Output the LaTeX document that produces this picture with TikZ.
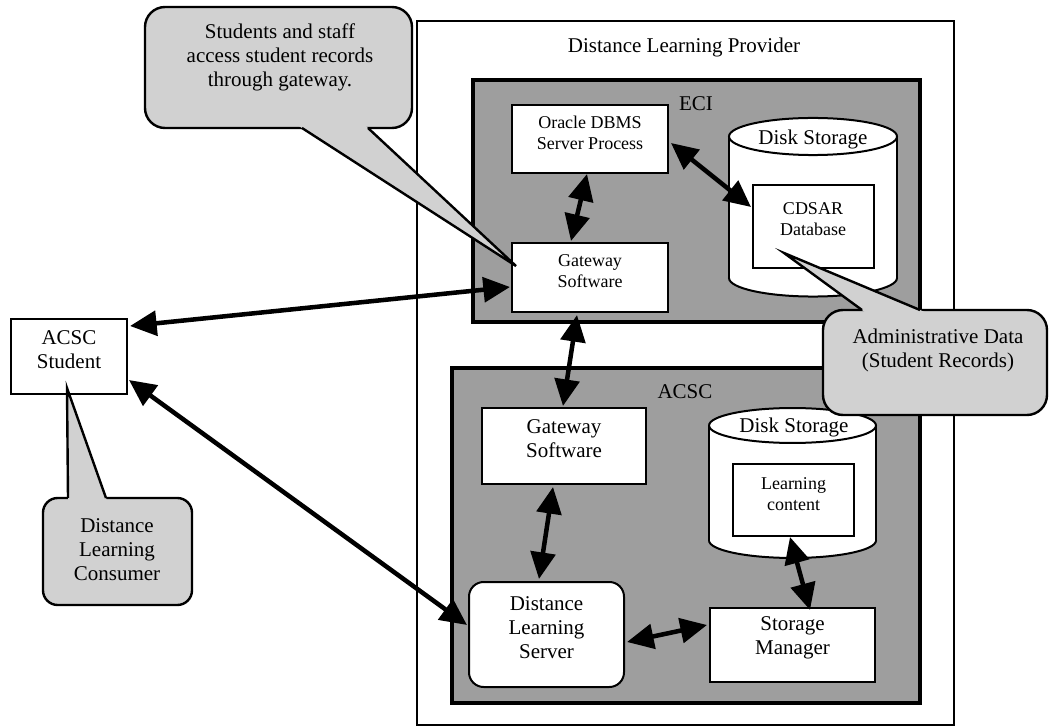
\documentclass[tikz,border=0pt]{standalone}
\usepackage{fontspec}
\setmainfont{Liberation Serif}
\usetikzlibrary{arrows.meta,calc,fit}
\definecolor{zonegray}{gray}{0.62}
\definecolor{notegray}{gray}{0.82}
\newcommand{\txtmain}{\fontsize{15.75pt}{18pt}\selectfont}
\newcommand{\txtsmall}{\fontsize{13.5pt}{15.75pt}\selectfont}

\begin{document}
\begin{tikzpicture}[x=0.75pt,y=-0.75pt,
  zone/.style={draw, line width=2.5pt, fill=zonegray, inner sep=0pt},
  box/.style={draw, line width=1.5pt, fill=white, inner sep=0pt, align=center, font=\txtmain},
  smallbox/.style={box, font=\txtsmall},
  roundbox/.style={box, rounded corners=11pt},
  note/.style={draw, line width=1.8pt, fill=notegray, inner sep=0pt},
  tailfill/.style={fill=notegray},
  tailline/.style={line width=1.8pt, line join=miter},
  link/.style={line width=3.4pt, {Triangle[length=20pt,width=18.5pt]}-{Triangle[length=20pt,width=18.5pt]}},
  lbl/.style={font=\txtmain, inner sep=0pt, align=center},
  disk/.style={draw, line width=1.5pt, fill=white}
]
\useasboundingbox (0,0) rectangle (1050,727);
\fill[white] (0,0) rectangle (1050,727);

% provider frame
\node[draw, line width=1.5pt, inner sep=0pt, fit={(417,21)(954,725)}] (provider) {};
\node[lbl] (providerT) at (684,47) {Distance Learning Provider};

% ECI and ACSC zones
\node[zone, fit={(473,80)(920,322)}] (eci) {};
\node[lbl] (eciT) at (696,104) {ECI};
\node[zone, fit={(452,368)(920,703)}] (acsc) {};
\node[lbl] (acscT) at (685,392) {ACSC};

% ECI disk storage cylinder
\path[disk] (813,278) ellipse [x radius=63pt, y radius=13.9pt];
\fill[white] (729,136.5) rectangle (897,278);
\draw[line width=1.5pt] (729,136.5) -- (729,278) (897,136.5) -- (897,278);
\path[disk] (813,136.5) ellipse [x radius=63pt, y radius=13.9pt];
\node[lbl] (diskE) at (813,139) {Disk Storage};

% ACSC disk storage cylinder
\path[disk] (792.5,540.5) ellipse [x radius=62.6pt, y radius=13.1pt];
\fill[white] (709,425.5) rectangle (876,540.5);
\draw[line width=1.5pt] (709,425.5) -- (709,540.5) (876,425.5) -- (876,540.5);
\path[disk] (792.5,425.5) ellipse [x radius=62.6pt, y radius=13.1pt];
\node[lbl] (diskA) at (794,427) {Disk Storage};

% boxes
\node[smallbox, fit={(512,105)(668,173)}] (oracle) {Oracle DBMS\\Server Process};
\node[smallbox, fit={(512,243)(668,312)}] (gwE) {Gateway\\Software};
\node[smallbox, fit={(753,185)(874,268)}] (cdsar) {};
\node[lbl, font=\txtsmall] (cdsarT) at (813,219) {CDSAR\\Database};
\node[box, fit={(482,408)(646,484)}] (gwA) {Gateway\\Software};
\node[smallbox, fit={(733,464)(854,536)}] (lc) {Learning\\content};
\node[roundbox, fit={(469,582)(624,687)}] (dls) {Distance\\Learning\\Server};
\node[box, fit={(710,608)(875,682)}] (sm) {Storage\\Manager};
\node[box, fit={(11,319)(127,394)}] (student) {ACSC\\Student};

% connectors
\draw[link] ($(student.east)+(2,-30.5)$) -- ($(gwE.west)+(-1,9.5)$);
\draw[link] ($(student.east)+(1,23.5)$) -- ($(dls.west)+(-1,-9.5)$);
\draw[link] ($(oracle.south)+(-3,0)$) -- ($(gwE.north)+(-19,-1)$);
\draw[link] ($(oracle.east)+(2,4)$) -- ($(cdsar.west)+(-1,-19.5)$);
\draw[link] ($(gwE.south)+(-13,2)$) -- ($(gwA.north)+(-1,-1)$);
\draw[link] ($(gwA.south)+(-11,2)$) -- ($(dls.north)+(-7.5,-2)$);
\draw[link] ($(dls.east)+(2,7.5)$) -- ($(sm.west)+(-2,-20)$);
\draw[link] ($(lc.south)+(-3.5,0)$) -- ($(sm.north)+(17.5,3)$);

% callout: gateway access
\node[note, rounded corners=15pt, fit={(145,7)(412,128)}] (noteGw) {};
\coordinate (gwTipA) at (302,128);
\coordinate (gwTipB) at (368,128);
\coordinate (gwTip) at ($(gwE.north west)+(5,24)$);
\fill[tailfill] (gwTip) -- ($(gwTip)!1.03!(gwTipA)$) -- ($(gwTip)!1.03!(gwTipB)$) -- cycle;
\draw[tailline] (gwTipA) -- (gwTip) -- (gwTipB);
\node[lbl] (noteGwT) at (280,57) {Students and staff\\access student records\\through gateway.};

% callout: consumer
\node[note, rounded corners=11pt, fit={(43,498)(192,605)}] (noteCons) {};
\coordinate (consA) at (68,498);
\coordinate (consB) at (106,498);
\coordinate (consTip) at ($(student.south)+(-2,-7)$);
\fill[tailfill] (consTip) -- ($(consTip)!1.05!(consA)$) -- ($(consTip)!1.05!(consB)$) -- cycle;
\draw[tailline] (consA) -- (consTip) -- (consB);
\node[lbl] (noteConsT) at (117,550) {Distance\\Learning\\Consumer};

% callout: administrative data
\node[note, rounded corners=15pt, fit={(823,310)(1047,415)}] (noteAdm) {};
\coordinate (admA) at (862,310);
\coordinate (admB) at (920,310);
\coordinate (admTip) at ($(cdsar.west)+(32,26.5)$);
\fill[tailfill] (admTip) -- ($(admTip)!1.08!(admA)$) -- ($(admTip)!1.08!(admB)$) -- cycle;
\draw[tailline] (admA) -- (admTip) -- (admB);
\node[lbl] (noteAdmT) at (938,350) {Administrative Data\\(Student Records)};
\end{tikzpicture}
\end{document}
